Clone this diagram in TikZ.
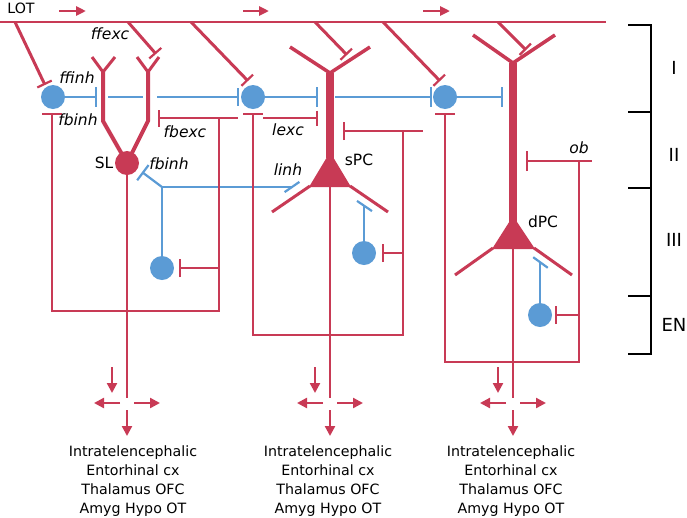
\documentclass[tikz,border=0pt]{standalone}
\usepackage{fontspec}
\setmainfont{DejaVu Sans}
\usetikzlibrary{arrows.meta}
\definecolor{rd}{RGB}{200,58,85}
\definecolor{bl}{RGB}{91,155,213}
\begin{document}
\begin{tikzpicture}[x=1pt,y=-1pt,
  ax/.style={draw=rd, line width=2.3pt},
  bax/.style={draw=bl, line width=2.2pt},
  lotline/.style={draw=rd, line width=2.4pt},
  lotbr/.style={draw=rd, line width=3pt, -{Bar[width=16pt,line width=2.2pt]}},
  dend/.style={draw=rd, line width=4pt},
  fork/.style={draw=rd, line width=3pt},
  apical/.style={draw=rd, line width=7.5pt},
  basal/.style={draw=rd, line width=3pt},
  bcell/.style={circle, fill=bl, minimum size=24pt, inner sep=0pt},
  rcell/.style={circle, fill=rd, minimum size=24pt, inner sep=0pt},
  outarr/.style={draw=rd, line width=2.3pt, -{Triangle[length=10pt,width=10pt]}},
  lbl/.style={font=\fontsize{14.2}{17}\selectfont, inner sep=0pt},
  ilbl/.style={font=\fontsize{15.5}{18}\selectfont\itshape, inner sep=0pt},
  clbl/.style={font=\fontsize{15.5}{18}\selectfont, inner sep=0pt},
  layer/.style={font=\fontsize{18}{20}\selectfont, inner sep=0pt}
]
\useasboundingbox (0,0) rectangle (687,517);

% ---------- LOT ----------
\coordinate (lotL) at (0,22);
\coordinate (lotR) at (606,22);
\draw[lotline] (lotL) -- (lotR);
\node[lbl] (lot) at (21,8) {LOT};
\foreach \a/\b in {59/86,243/269,423/450}
  \draw[ax, line width=2.6pt, -{Triangle[length=10pt,width=9pt]}] (\a,11) -- (\b,11);

% cells
\node[bcell] (i1) at (53,97) {};
\node[bcell] (i2) at (253,97) {};
\node[bcell] (i3) at (445,97) {};
\node[bcell] (i4) at (162,268) {};
\node[bcell] (i5) at (364,253) {};
\node[bcell] (i6) at (540,315) {};

% LOT collaterals
\draw[lotbr] (15,22) -- (45,85);
\draw[lotbr] (128,22) -- (156,54);
\draw[lotbr] (191,22) -- (248,81);
\draw[lotbr] (315,22) -- (347,55);
\draw[lotbr] (383,22) -- (440,81);
\draw[lotbr] (498,22) -- (526,50);

% ---------- blue axons ----------
\draw[bax, -{Bar[width=20pt]}] (i1.east) -- (97,97);
\draw[bax] (108,97) -- (143,97);
\draw[bax, -{Bar[width=18pt]}] (157,97) -- (239,97);
\draw[bax, -{Bar[width=20pt]}] (i2.east) -- (318,97);
\draw[bax, -{Bar[width=20pt]}] (335,97) -- (432,97);
\draw[bax, -{Bar[width=20pt]}] (i3.east) -- (503,97);

\coordinate (j4) at (162,187);
\coordinate (linh) at (292,187);
\draw[bax] (i4.north) -- (j4) -- (linh);
\draw[bax] (284.6,192.1) -- (299.4,181.9);
\draw[bax, -{Bar[width=19pt]}] (j4) -- (142,172);
\draw[bax] (i5.north) -- (364,206);
\draw[bax] (357,200.9) -- (372,211.1);
\draw[bax] (i6.north) -- (540,262);
\draw[bax] (533.2,257.2) -- (547.8,267.8);

% ---------- SL cell ----------
\draw[dend] (127,163) -- (103,121) -- (103,72);
\draw[fork] (92,57) -- (103,72) -- (115,57);
\draw[dend] (127,163) -- (148,121) -- (148,72);
\draw[fork] (137,57) -- (148,72) -- (159,57);
\node[rcell] (sl) at (127,163) {};
\draw[ax] (sl) -- (127,398);
\draw[ax, {Bar[width=20pt]}-] (52,113) -- (52,311) -- (219,311) -- (219,118);
\draw[ax, {Bar[width=17pt]}-] (158,118) -- (238,118);
\draw[ax, -{Bar[width=15pt]}] (263,118) -- (318,118);
\draw[ax, -{Bar[width=18pt]}] (219,268) -- (179,268);

% ---------- sPC ----------
\draw[apical] (330,158) -- (330,73);
\draw[fork, line width=3.5pt] (290,47) -- (330,73) -- (370,47);
\draw[basal] (310,186) -- (272,212);
\draw[basal] (350,186) -- (388,212);
\fill[rd] (330,152) -- (309,187) -- (351,187) -- cycle;
\coordinate (spc) at (330,186);
\draw[ax] (spc) -- (330,398);
\draw[ax, {Bar[width=20pt]}-] (253,113) -- (253,335) -- (403,335) -- (403,131);
\draw[ax, {Bar[width=18pt]}-] (343,131) -- (423,131);
\draw[ax, -{Bar[width=18pt]}] (403,253) -- (382,253);

% ---------- dPC ----------
\draw[apical] (513,222) -- (513,63);
\draw[fork, line width=3.5pt] (473,35) -- (513,63) -- (555,35);
\draw[basal] (493,248) -- (455,275);
\draw[basal] (534,248) -- (572,275);
\fill[rd] (513,216) -- (492,249) -- (535,249) -- cycle;
\coordinate (dpc) at (513,248);
\draw[ax] (dpc) -- (513,398);
\draw[ax, {Bar[width=20pt]}-] (445,113) -- (445,362) -- (579,362) -- (579,161);
\draw[ax, {Bar[width=20pt]}-] (526,161) -- (592,161);
\draw[ax, -{Bar[width=18pt]}] (579,315) -- (555,315);

% ---------- outputs ----------
\foreach \x/\t in {127/133,330/328,513/511} {
  \draw[outarr] (\x-15,367) -- (\x-15,393);
  \draw[outarr] (\x-7,403) -- (\x-33,403);
  \draw[outarr] (\x+7,403) -- (\x+33,403);
  \draw[outarr] (\x,410) -- (\x,436);
  \node[lbl, anchor=base] at (\t,456) {Intratelencephalic};
  \node[lbl, anchor=base] at (\t,475) {Entorhinal cx};
  \node[lbl, anchor=base] at (\t,494) {Thalamus OFC};
  \node[lbl, anchor=base] at (\t,513) {Amyg Hypo OT};
}

% ---------- labels ----------
\node[ilbl] (lffexc) at (110,34) {ffexc};
\node[ilbl] (lffinh) at (77,78) {ffinh};
\node[ilbl] (lfbinh) at (78,120) {fbinh};
\node[ilbl] (lfbexc) at (185,132) {fbexc};
\node[clbl] (lsl) at (104,163) {SL};
\node[ilbl] (lfbinh2) at (169,164) {fbinh};
\node[ilbl] (llexc) at (288,130) {lexc};
\node[ilbl] (llinh) at (288,170) {linh};
\node[clbl] (lspc) at (359,160) {sPC};
\node[clbl] (ldpc) at (543,222) {dPC};
\node[ilbl] (lob) at (579,148) {ob};

% ---------- layers ----------
\draw[black, line width=2.6pt] (628,25) -- (651,25) -- (651,354) -- (628,354);
\foreach \y in {112,188,296} \draw[black, line width=2.6pt] (628,\y) -- (651,\y);
\node[layer] (LI) at (674,68) {I};
\node[layer] (LII) at (674,155) {II};
\node[layer] (LIII) at (674,240) {III};
\node[layer] (LEN) at (674,325) {EN};
\end{tikzpicture}
\end{document}
